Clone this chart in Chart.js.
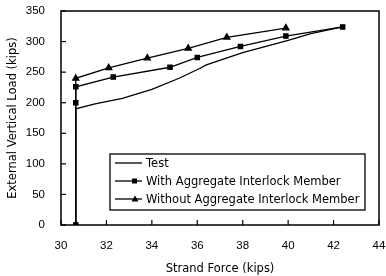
<!DOCTYPE html>
<html>
<head>
<meta charset="utf-8">
<script src="https://cdn.jsdelivr.net/npm/chart.js@4"></script>
<style>
  html, body { margin: 0; padding: 0; background: #fff; }
  #wrap { width: 386px; height: 276px; }
</style>
</head>
<body>
<div id="wrap"><canvas id="chart" width="386" height="276"></canvas></div>
<script>
// values
const testX = [30.65, 30.65, 31.5, 32.7, 34, 35.2, 36.1, 36.4, 38, 40, 41, 42.4];
const testY = [0, 190, 198, 207, 222, 240, 256, 262, 282, 302, 313, 324];

const withX = [30.65, 30.65, 30.65, 32.3, 34.8, 36, 37.9, 39.9, 42.4];
const withY = [0, 200, 226, 242, 258, 274, 292, 309, 324];

const withoutX = [30.65, 30.65, 32.1, 33.8, 35.6, 37.3, 39.9];
const withoutY = [0, 240, 257, 273, 289, 307, 322];

const xTicks = [30, 32, 34, 36, 38, 40, 42, 44];
const yTicks = [0, 50, 100, 150, 200, 250, 300, 350];

const labels = ["Test", "With Aggregate Interlock Member", "Without Aggregate Interlock Member"];

function pts(xs, ys) {
  return xs.map((x, i) => ({ x: x, y: ys[i] }));
}

const FONT = "Liberation Sans, Arial, sans-serif";
const WIDE = "DejaVu Sans, sans-serif";

function noPad(s) {
  s.paddingTop = 0;
  s.paddingBottom = 0;
  s.paddingLeft = 0;
  s.paddingRight = 0;
}

// frame, inward ticks and the boxed legend
const framePlugin = {
  id: "frame",
  afterDraw(chart) {
    const { ctx, chartArea: a, scales } = chart;
    ctx.save();
    ctx.strokeStyle = "#000";
    ctx.lineWidth = 1.5;
    ctx.strokeRect(a.left, a.top, a.right - a.left, a.bottom - a.top);
    ctx.lineWidth = 1.2;
    xTicks.forEach(v => {
      const px = scales.x.getPixelForValue(v);
      ctx.beginPath();
      ctx.moveTo(px, a.bottom);
      ctx.lineTo(px, a.bottom - 5);
      ctx.stroke();
    });
    yTicks.forEach(v => {
      const py = scales.y.getPixelForValue(v);
      ctx.beginPath();
      ctx.moveTo(a.left, py);
      ctx.lineTo(a.left + 5, py);
      ctx.stroke();
    });

    // legend box
    const lx = 110, ly = 154, lw = 255, lh = 56;
    ctx.fillStyle = "#fff";
    ctx.fillRect(lx, ly, lw, lh);
    ctx.lineWidth = 1.3;
    ctx.strokeRect(lx, ly, lw, lh);
    ctx.font = "11.5px " + WIDE;
    ctx.textBaseline = "middle";
    ctx.fillStyle = "#000";
    labels.forEach((t, i) => {
      const y = ly + 9 + i * 18;
      ctx.beginPath();
      ctx.moveTo(lx + 5, y);
      ctx.lineTo(lx + 32, y);
      ctx.stroke();
      if (i === 1) {
        ctx.fillRect(lx + 22, y - 2.5, 5, 5);
      } else if (i === 2) {
        ctx.beginPath();
        ctx.moveTo(lx + 25, y - 3.5);
        ctx.lineTo(lx + 28.5, y + 2.5);
        ctx.lineTo(lx + 21.5, y + 2.5);
        ctx.closePath();
        ctx.fill();
      }
      ctx.fillText(t, lx + 36, y + 1);
    });
    ctx.restore();
  }
};

new Chart(document.getElementById("chart"), {
  type: "scatter",
  data: {
    datasets: [
      {
        label: labels[0],
        data: pts(testX, testY),
        showLine: true,
        borderColor: "#000",
        borderWidth: 1.3,
        pointRadius: 0,
        tension: 0
      },
      {
        label: labels[1],
        data: pts(withX, withY),
        showLine: true,
        borderColor: "#000",
        backgroundColor: "#000",
        borderWidth: 1.3,
        pointStyle: "rect",
        pointRadius: 3,
        tension: 0
      },
      {
        label: labels[2],
        data: pts(withoutX, withoutY),
        showLine: true,
        borderColor: "#000",
        backgroundColor: "#000",
        borderWidth: 1.3,
        pointStyle: "triangle",
        pointRadius: 3.5,
        tension: 0
      }
    ]
  },
  options: {
    responsive: false,
    animation: false,
    layout: { padding: { top: 11, right: 7, left: 6, bottom: 0 } },
    plugins: {
      legend: { display: false },
      tooltip: { enabled: false }
    },
    scales: {
      x: {
        type: "linear",
        min: 30,
        max: 44,
        afterBuildTicks: s => { s.ticks = xTicks.map(v => ({ value: v })); },
        afterFit: s => { s.height = 51; noPad(s); },
        grid: { display: false, drawTicks: false },
        border: { display: false },
        ticks: { color: "#000", font: { family: FONT, size: 11.5 }, padding: 14, maxRotation: 0 },
        title: {
          display: true,
          text: "Strand Force (kips)",
          color: "#000",
          font: { family: WIDE, size: 11.5 },
          padding: { top: 2, bottom: 0 }
        }
      },
      y: {
        type: "linear",
        min: 0,
        max: 350,
        afterBuildTicks: s => { s.ticks = yTicks.map(v => ({ value: v })); },
        afterFit: s => { s.width = 55; noPad(s); },
        grid: { display: false, drawTicks: false },
        border: { display: false },
        ticks: { color: "#000", font: { family: FONT, size: 11.5 }, padding: 16 },
        title: {
          display: true,
          text: "External Vertical Load (kips)",
          color: "#000",
          font: { family: WIDE, size: 11.5 },
          padding: { top: 0, bottom: 0 }
        }
      }
    }
  },
  plugins: [framePlugin]
});
</script>
</body>
</html>
